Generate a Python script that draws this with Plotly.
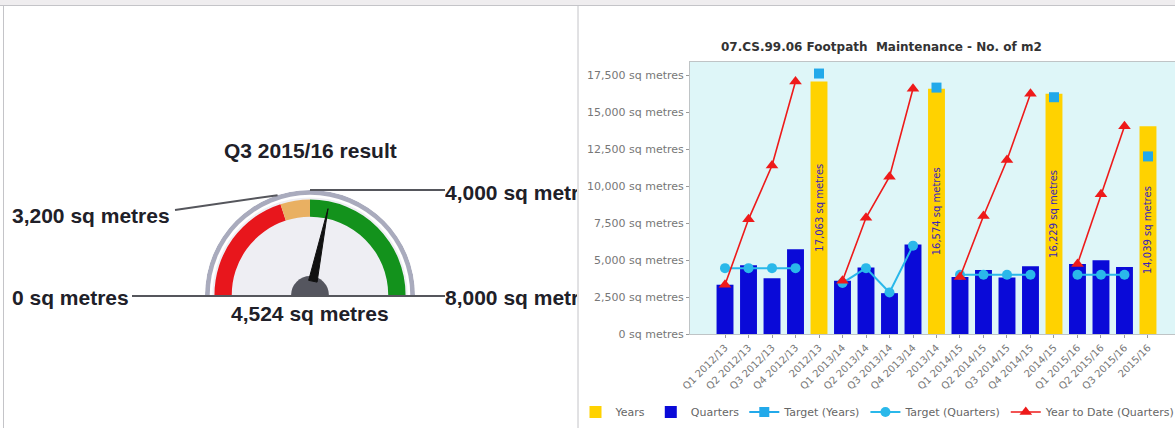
import math
import plotly.graph_objects as go

# ---------------- data ----------------
categories = ["Q1 2012/13", "Q2 2012/13", "Q3 2012/13", "Q4 2012/13", "2012/13",
              "Q1 2013/14", "Q2 2013/14", "Q3 2013/14", "Q4 2013/14", "2013/14",
              "Q1 2014/15", "Q2 2014/15", "Q3 2014/15", "Q4 2014/15", "2014/15",
              "Q1 2015/16", "Q2 2015/16", "Q3 2015/16", "2015/16"]
years_vals = [None, None, None, None, 17063,
              None, None, None, None, 16574,
              None, None, None, None, 16229,
              None, None, None, 14039]
quarters_vals = [3330, 4640, 3760, 5720, None,
                 3600, 4500, 2760, 6040, None,
                 3850, 4320, 3820, 4570, None,
                 4730, 4990, 4524, None]
target_years = [None, None, None, None, 17600,
                None, None, None, None, 16650,
                None, None, None, None, 16000,
                None, None, None, 12000]
target_quarters = [4450, 4450, 4450, 4450, None,
                   3450, 4450, 2800, 5970, None,
                   4000, 4000, 4000, 4000, None,
                   4000, 4000, 4000, None]
ytd_quarters = [3330, 7750, 11380, 17063, None,
                3600, 7850, 10630, 16574, None,
                3850, 7970, 11760, 16229, None,
                4730, 9450, 14039, None]
y_ticks = [0, 2500, 5000, 7500, 10000, 12500, 15000, 17500]

# gauge
gauge_title = "Q3 2015/16 result"
gauge_min = 0
gauge_max = 8000
gauge_red_to = 3200
gauge_amber_to = 4000
gauge_value = 4524
unit = " sq metres"

W, H = 1175, 428


def px(x):
    return x / W


def py(y):
    return 1 - y / H


def fmt(v):
    return f"{v:,}{unit}"


fig = go.Figure()

# ---------------- right chart ----------------
fig.add_trace(go.Bar(
    name="Years", x=categories, y=years_vals,
    marker=dict(color="#FFD200", line=dict(width=0)),
    texttemplate="%{y:,.0f} sq metres", textposition="inside",
    insidetextanchor="middle", textangle=-90, constraintext="none",
    textfont=dict(family="DejaVu Sans", size=10, color="#3b22b8"),
    hoverinfo="skip"))
fig.add_trace(go.Bar(
    name="Quarters", x=categories, y=quarters_vals,
    marker=dict(color="#0a0ad8", line=dict(width=0)), hoverinfo="skip"))
fig.add_trace(go.Scatter(
    name="Target (Years)", x=categories, y=target_years, mode="lines+markers",
    line=dict(color="#22a9ea", width=2),
    marker=dict(symbol="square", size=10, color="#22a9ea"), connectgaps=False))
fig.add_trace(go.Scatter(
    name="Target (Quarters)", x=categories, y=target_quarters, mode="lines+markers",
    line=dict(color="#2ab8ea", width=2),
    marker=dict(symbol="circle", size=10, color="#2ab8ea"), connectgaps=False))
fig.add_trace(go.Scatter(
    name="Year to Date (Quarters)", x=categories, y=ytd_quarters, mode="lines+markers",
    line=dict(color="#ee1a1a", width=1.6),
    marker=dict(symbol="triangle-up", size=11, color="#ee1a1a"), connectgaps=False))

# ---------------- gauge (polar) ----------------
def ang(v):
    return (v - gauge_min) / (gauge_max - gauge_min) * 180.0


def band(v0, v1, base, thick, color):
    fig.add_trace(go.Barpolar(
        r=[thick], base=[base], theta=[(ang(v0) + ang(v1)) / 2], width=[ang(v1) - ang(v0)],
        marker=dict(color=color, line=dict(width=0)), showlegend=False,
        hoverinfo="skip", subplot="polar"))


band(gauge_min, gauge_max, 0.0, 1.0, "#a9abbd")      # bezel
band(gauge_min, gauge_max, 0.0, 0.955, "#ffffff")    # inner white rim
band(gauge_min, gauge_max, 0.0, 0.93, "#eeeef3")     # face
band(gauge_min, gauge_red_to, 0.745, 0.165, "#e8161c")
band(gauge_red_to, gauge_amber_to, 0.745, 0.165, "#e9b062")
band(gauge_amber_to, gauge_max, 0.745, 0.165, "#13921c")

tv = ang(gauge_value)
fig.add_trace(go.Scatterpolar(
    r=[0.84, 0.14, 0.14, 0.84], theta=[tv, tv - 17, tv + 17, tv],
    mode="lines", fill="toself", fillcolor="#111111",
    line=dict(color="#111111", width=1), showlegend=False, hoverinfo="skip",
    subplot="polar"))
band(gauge_min, gauge_max, 0.0, 0.18, "#55565f")      # hub

# gauge geometry (pixels) for the labels
gcx, gcy, gR = 310, 295, 105


def gpt(v, rf):
    a = math.radians(ang(v))
    return gcx - gR * rf * math.cos(a), gcy - gR * rf * math.sin(a)


shapes = []
line_col = "#55565c"
# top strip and panel frame
shapes.append(dict(type="rect", xref="paper", yref="paper", x0=0, x1=1, y0=py(5), y1=1,
                   fillcolor="#efedef", line=dict(width=0), layer="below"))
shapes.append(dict(type="line", xref="paper", yref="paper", x0=0, x1=1, y0=py(5.5), y1=py(5.5),
                   line=dict(color="#c4c4c8", width=1)))
shapes.append(dict(type="line", xref="paper", yref="paper", x0=px(3.5), x1=px(3.5), y0=0, y1=py(5.5),
                   line=dict(color="#c4c4c8", width=1)))
shapes.append(dict(type="line", xref="paper", yref="paper", x0=px(578), x1=px(578), y0=0, y1=py(5.5),
                   line=dict(color="#c4c4c8", width=1)))
# leader lines
x0l, y0l = gpt(gauge_min, 1.0)
x8l, y8l = gpt(gauge_max, 1.0)
shapes.append(dict(type="line", xref="paper", yref="paper", x0=px(132), x1=px(445),
                   y0=py(y0l + 1), y1=py(y8l + 1), line=dict(color=line_col, width=2)))
x32, y32 = gpt(gauge_red_to, 1.0)
shapes.append(dict(type="line", xref="paper", yref="paper", x0=px(175), x1=px(x32),
                   y0=py(210), y1=py(y32), line=dict(color=line_col, width=2)))
x40, y40 = gpt(gauge_amber_to, 1.0)
shapes.append(dict(type="line", xref="paper", yref="paper", x0=px(x40), x1=px(445),
                   y0=py(y40), y1=py(y40), line=dict(color=line_col, width=2)))

gfont = dict(family="Liberation Sans", size=21, color="#202028")

annotations = [
    dict(text=f"<b>{gauge_title}</b>", x=px(310), y=py(150), xref="paper", yref="paper",
         showarrow=False, font=gfont, xanchor="center", yanchor="middle"),
    dict(text=f"<b>{fmt(gauge_value)}</b>", x=px(310), y=py(313), xref="paper", yref="paper",
         showarrow=False, font=gfont, xanchor="center", yanchor="middle"),
    dict(text=f"<b>{fmt(gauge_min)}</b>", x=px(10), y=py(297), xref="paper", yref="paper",
         showarrow=False, font=gfont, xanchor="left", yanchor="middle"),
    dict(text=f"<b>{fmt(gauge_red_to)}</b>", x=px(10), y=py(216), xref="paper", yref="paper",
         showarrow=False, font=gfont, xanchor="left", yanchor="middle"),
    dict(text=f"<b>{fmt(gauge_amber_to)}</b>", x=px(444), y=py(y40 + 2), xref="paper", yref="paper",
         showarrow=False, font=gfont, xanchor="left", yanchor="middle", align="left",
         width=132, borderpad=0),
    dict(text=f"<b>{fmt(gauge_max)}</b>", x=px(444), y=py(297), xref="paper", yref="paper",
         showarrow=False, font=gfont, xanchor="left", yanchor="middle", align="left",
         width=132, borderpad=0),
    dict(text="<b>07.CS.99.06 Footpath  Maintenance - No. of m2</b>", x=px(882), y=py(47),
         xref="paper", yref="paper", showarrow=False,
         font=dict(family="DejaVu Sans", size=12, color="#333333"),
         xanchor="center", yanchor="middle"),
]

fig.update_layout(
    width=W, height=H, margin=dict(l=0, r=0, t=0, b=0, autoexpand=False),
    paper_bgcolor="white", plot_bgcolor="#def6f8",
    barmode="overlay", bargap=0.28,
    showlegend=True,
    legend=dict(orientation="h", x=px(878), y=py(412), xanchor="center", yanchor="middle",
                font=dict(family="DejaVu Sans", size=11, color="#666666"),
                itemwidth=30, bgcolor="rgba(0,0,0,0)", tracegroupgap=0),
    xaxis=dict(domain=[px(690), 1], type="category", categoryorder="array",
               categoryarray=categories, range=[-1.49, 19.15],
               tickangle=-45, ticks="outside", ticklen=3, tickcolor="#999999",
               tickfont=dict(family="DejaVu Sans", size=10, color="#777777"),
               showline=True, linecolor="#bfc4c6", mirror=True, showgrid=False, zeroline=False),
    yaxis=dict(domain=[py(334), py(62)], range=[0, 18380], tickmode="array",
               tickvals=y_ticks, ticktext=[fmt(v) for v in y_ticks],
               ticks="outside", ticklen=3, tickcolor="#999999",
               tickfont=dict(family="DejaVu Sans", size=11, color="#777777"),
               showline=True, linecolor="#bfc4c6", mirror=True, showgrid=False, zeroline=False),
    polar=dict(domain=dict(x=[px(gcx - gR), px(gcx + gR)], y=[py(gcy), py(gcy - gR)]),
               sector=[0, 180], hole=0, bgcolor="rgba(0,0,0,0)",
               radialaxis=dict(visible=False, range=[0, 1]),
               angularaxis=dict(visible=False, direction="clockwise", rotation=180,
                                thetaunit="degrees")),
    shapes=shapes, annotations=annotations,
)

fig.write_html("out.html")
